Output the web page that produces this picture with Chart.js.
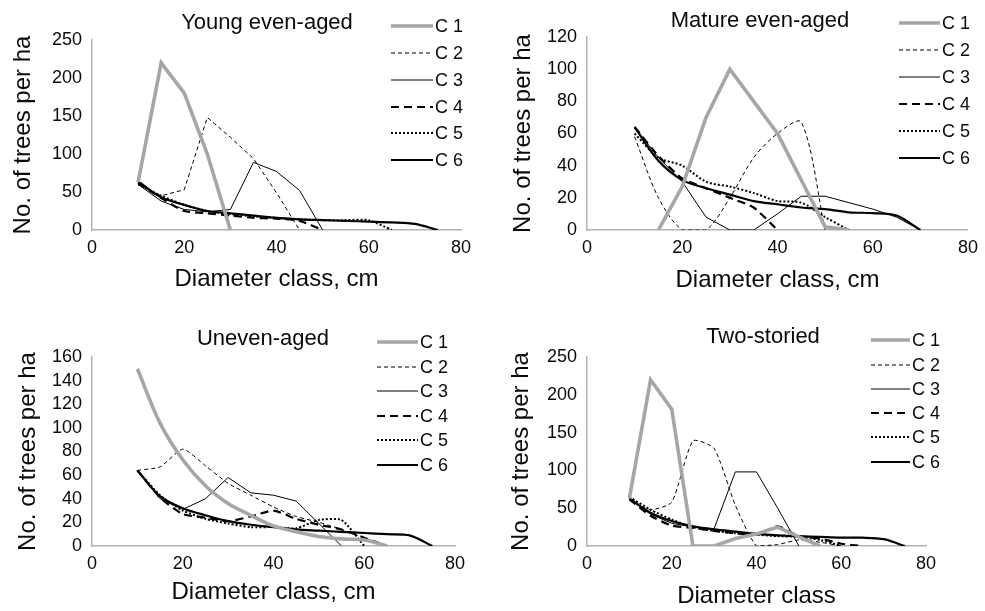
<!DOCTYPE html>
<html>
<head>
<meta charset="utf-8">
<script src="https://cdn.jsdelivr.net/npm/chart.js@4.4.1/dist/chart.umd.min.js"></script>
<style>
  body { margin: 0; background: #fff; }
  #wrap { position: relative; width: 985px; height: 611px; overflow: hidden; }
  canvas { position: absolute; }
</style>
</head>
<body>
<div id="wrap">
  <canvas id="p1" width="490" height="300" style="left:0;top:0"></canvas>
  <canvas id="p2" width="495" height="300" style="left:490px;top:0"></canvas>
  <canvas id="p3" width="490" height="311" style="left:0;top:300px"></canvas>
  <canvas id="p4" width="495" height="311" style="left:490px;top:300px"></canvas>
</div>
<script>
// diameter classes (cm) and series labels
const diam = [10, 15, 20, 25, 30, 35, 40, 45, 50, 55, 60, 65, 70, 75];
const seriesNames = ["C 1", "C 2", "C 3", "C 4", "C 5", "C 6"];
const xTicks = [0, 20, 40, 60, 80];

// trees per ha, one row per series (C 1 .. C 6)
const youngSeries = [
  [63, 220, 180, 100, 0],
  [60, 45, 53, 148, 122, 94, 49, 0],
  [60, 38, 27, 24, 27, 89, 77, 52, 0],
  [62, 42, 25, 22, 19, 16, 15, 12, 0],
  [60, 45, 33, 25, 21, 18, 16, 14, 13, 13, 13, 0],
  [64, 43, 33, 25, 22, 19, 16, 14, 13, 12, 11, 10, 8, 0]
];
const matureSeries = [
  [null, 0, 27, 70, 100, 80, 60, 31, 2, 0],
  [58, 20, 0, 0, 20, 45, 60, 67, 0],
  [64, 45, 30, 8, 0, 0, 10, 21, 21, 17, 13, 8, 0],
  [64, 46, 32, 26, 20, 14, 0],
  [60, 45, 40, 30, 27, 23, 18, 17, 8, 0],
  [64, 43, 31, 26, 22, 18, 16, 14, 13, 11, 10.5, 9, 0]
];
const unevenSeries = [
  [150, 104, 73, 51, 36, 26, 17, 12, 8, 6, 5, 0],
  [64, 67, 82, 68, 53, 43, 33, 25, 20, 14, 7, 0],
  [64, 40, 31, 40, 58, 45, 43, 38, 19, 0],
  [64, 41, 27, 24, 21, 25, 30, 23, 18, 14, 7, 0],
  [64, 43, 30, 23, 19, 16, 16, 15, 22, 22, 0],
  [64, 42, 32, 26, 21, 18, 16, 14, 13, 12, 11, 10, 9, 0]
];
const twoStoriedSeries = [
  [63, 220, 181, 0, 0, 10, 16, 25, 12, 0],
  [60, 48, 58, 139, 129, 54, 0, 2, 8, 5, 0],
  [62, 42, 30, 25, 23, 98, 98, 50, 0],
  [62, 40, 27, 24, 20, 17, 15, 26, 13, 10, 3, 0],
  [65, 48, 35, 25, 20, 17, 15, 13, 12, 8, 0],
  [63, 44, 33, 26, 22, 19, 16, 14, 13, 12, 11, 11, 9, 0]
];

const youngTicks = [0, 50, 100, 150, 200, 250];
const matureTicks = [0, 20, 40, 60, 80, 100, 120];
const unevenTicks = [0, 20, 40, 60, 80, 100, 120, 140, 160];
const twoStoriedTicks = [0, 50, 100, 150, 200, 250];

const FONT = "'Liberation Sans', Arial, sans-serif";
const INK = "#0a0a0a";

// line look for each series
const lineStyles = [
  { color: "#a6a6a6", width: 3.6, dash: [] },
  { color: "#000", width: 1, dash: [4, 3] },
  { color: "#000", width: 1, dash: [] },
  { color: "#000", width: 2.2, dash: [8, 5] },
  { color: "#000", width: 2, dash: [2, 2] },
  { color: "#000", width: 2.2, dash: [] }
];

// title + legend drawn on top of the chart
const panelDecor = {
  id: "panelDecor",
  afterDraw(chart, args, opts) {
    const ctx = chart.ctx;
    ctx.save();
    ctx.fillStyle = INK;
    ctx.font = "22px " + FONT;
    ctx.textAlign = "center";
    ctx.textBaseline = "middle";
    ctx.fillText(opts.title, opts.titleX, opts.titleY);

    ctx.font = "18px " + FONT;
    ctx.textAlign = "left";
    chart.data.datasets.forEach((ds, i) => {
      const y = opts.legendY[i];
      ctx.beginPath();
      ctx.strokeStyle = ds.borderColor;
      ctx.lineWidth = ds.borderWidth;
      ctx.setLineDash(ds.borderDash || []);
      ctx.moveTo(opts.legendX0, y);
      ctx.lineTo(opts.legendX1, y);
      ctx.stroke();
      ctx.setLineDash([]);
      ctx.fillText(ds.label, opts.legendX1 + 2, y + 1);
    });
    ctx.restore();
  }
};

function makePanel(id, series, yTicks, xTitle, box, decor, tensions) {
  const datasets = series.map((vals, i) => ({
    label: seriesNames[i],
    data: vals.map((v, j) => ({ x: diam[j], y: v })),
    borderColor: lineStyles[i].color,
    borderWidth: lineStyles[i].width,
    borderDash: lineStyles[i].dash,
    tension: tensions[i],
    pointRadius: 0,
    fill: false
  }));

  return new Chart(document.getElementById(id), {
    type: "line",
    data: { datasets },
    plugins: [panelDecor],
    options: {
      responsive: false,
      animation: false,
      events: [],
      layout: { padding: { top: box.top, right: box.right, left: 0, bottom: 0 } },
      plugins: {
        legend: { display: false },
        title: { display: false },
        tooltip: { enabled: false },
        panelDecor: decor
      },
      scales: {
        x: {
          type: "linear",
          min: xTicks[0],
          max: xTicks[xTicks.length - 1],
          afterBuildTicks: s => { s.ticks = xTicks.map(v => ({ value: v })); },
          afterFit: s => { s.height = box.xHeight; },
          grid: { display: false, drawTicks: false },
          border: { display: true, color: "#b3b3b3", width: 1.5 },
          ticks: { color: INK, font: { family: FONT, size: 18 }, padding: 7, maxRotation: 0, autoSkip: false },
          title: { display: true, text: xTitle, color: INK, font: { family: FONT, size: 24 }, padding: { bottom: box.xTitlePad } }
        },
        y: {
          min: yTicks[0],
          max: yTicks[yTicks.length - 1],
          afterBuildTicks: s => { s.ticks = yTicks.map(v => ({ value: v })); },
          afterFit: s => { s.width = box.left; },
          grid: { display: false, drawTicks: false },
          border: { display: true, color: "#b3b3b3", width: 1.5 },
          ticks: { color: INK, font: { family: FONT, size: 18 }, padding: 10, autoSkip: false },
          title: { display: true, text: "No. of trees per ha", color: INK, font: { family: FONT, size: 24 }, padding: { top: box.yTitlePad } }
        }
      }
    }
  });
}

makePanel("p1", youngSeries, youngTicks, "Diameter class, cm",
  { top: 40, right: 29, left: 92, xHeight: 70, xTitlePad: 6, yTitlePad: 9 },
  { title: "Young even-aged", titleX: 267, titleY: 23, legendX0: 391, legendX1: 433, legendY: [26, 53, 80, 107, 133, 160] },
  [0, 0, 0, 0.2, 0.2, 0.3]);

makePanel("p2", matureSeries, matureTicks, "Diameter class, cm",
  { top: 37, right: 12, left: 97, xHeight: 70, xTitlePad: 5, yTitlePad: 19 },
  { title: "Mature even-aged", titleX: 270, titleY: 21, legendX0: 409, legendX1: 450, legendY: [23, 50, 77, 104, 131, 158] },
  [0, 0.3, 0, 0.2, 0.3, 0.3]);

makePanel("p3", unevenSeries, unevenTicks, "Diameter class, cm",
  { top: 57, right: 35, left: 92, xHeight: 65, xTitlePad: 4, yTitlePad: 14 },
  { title: "Uneven-aged", titleX: 263, titleY: 39, legendX0: 377, legendX1: 418, legendY: [42, 67, 91, 116, 140, 165] },
  [0.35, 0.2, 0, 0.2, 0.2, 0.3]);

makePanel("p4", twoStoriedSeries, twoStoriedTicks, "Diameter class",
  { top: 57, right: 59, left: 97, xHeight: 65, xTitlePad: 0, yTitlePad: 17 },
  { title: "Two-storied", titleX: 273, titleY: 37, legendX0: 381, legendX1: 420, legendY: [40, 65, 89, 113, 137, 162] },
  [0, 0.2, 0, 0.2, 0.2, 0.3]);
</script>
</body>
</html>
